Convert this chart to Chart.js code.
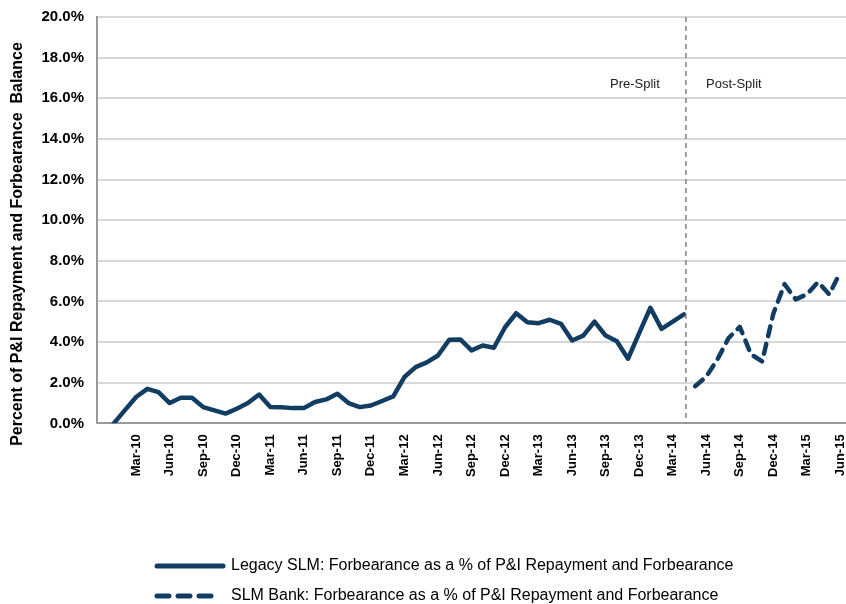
<!DOCTYPE html>
<html>
<head>
<meta charset="utf-8">
<script src="https://cdn.jsdelivr.net/npm/chart.js@4/dist/chart.umd.min.js"></script>
<style>
  html, body { margin: 0; padding: 0; background: #fff; }
  #wrap { width: 846px; height: 604px; position: relative; }
</style>
</head>
<body>
<div id="wrap"><canvas id="c" width="846" height="604"></canvas></div>
<script>
const months = [
  'Dec-09',
  'Jan-10','Feb-10','Mar-10','Apr-10','May-10','Jun-10','Jul-10','Aug-10','Sep-10','Oct-10','Nov-10','Dec-10',
  'Jan-11','Feb-11','Mar-11','Apr-11','May-11','Jun-11','Jul-11','Aug-11','Sep-11','Oct-11','Nov-11','Dec-11',
  'Jan-12','Feb-12','Mar-12','Apr-12','May-12','Jun-12','Jul-12','Aug-12','Sep-12','Oct-12','Nov-12','Dec-12',
  'Jan-13','Feb-13','Mar-13','Apr-13','May-13','Jun-13','Jul-13','Aug-13','Sep-13','Oct-13','Nov-13','Dec-13',
  'Jan-14','Feb-14','Mar-14','Apr-14','May-14','Jun-14','Jul-14','Aug-14','Sep-14','Oct-14','Nov-14','Dec-14',
  'Jan-15','Feb-15','Mar-15','Apr-15','May-15','Jun-15'
];

// Legacy SLM (Jan-10 .. Apr-14), percent
const legacyValues = [
  0.0, 0.65, 1.3, 1.7, 1.54, 1.0, 1.26, 1.26, 0.8, 0.64, 0.48, 0.72,
  1.0, 1.42, 0.8, 0.79, 0.75, 0.75, 1.05, 1.18, 1.46, 1.0, 0.8, 0.88,
  1.1, 1.33, 2.28, 2.77, 3.0, 3.34, 4.11, 4.13, 3.59, 3.83, 3.72, 4.73,
  5.42, 4.98, 4.93, 5.1, 4.9, 4.08, 4.32, 5.01, 4.32, 4.04, 3.18, 4.44,
  5.69, 4.65, 5.01, 5.36
];
const legacyStart = 'Jan-10';

// SLM Bank (May-14 .. Jun-15), percent
const bankValues = [1.83, 2.3, 3.15, 4.2, 4.75, 3.4, 3.05, 5.4, 6.85, 6.1, 6.35, 6.95, 6.35, 7.45];
const bankStart = 'May-14';

const splitMonth = 'Apr-14';
const yTicks = [0, 2, 4, 6, 8, 10, 12, 14, 16, 18, 20];

const seriesNames = [
  'Legacy SLM: Forbearance as a % of P&I Repayment and Forbearance',
  'SLM Bank: Forbearance as a % of P&I Repayment and Forbearance'
];
const yTitle = 'Percent of P&I Repayment and Forbearance  Balance';

function place(values, start) {
  const arr = months.map(() => null);
  const s = months.indexOf(start);
  values.forEach((v, i) => { arr[s + i] = v; });
  return arr;
}

const NAVY = '#123d63';
const FONT = 'Arial, "Liberation Sans", sans-serif';

const extras = {
  id: 'extras',
  afterDatasetsDraw(chart) {
    const ctx = chart.ctx;
    const x = chart.scales.x;
    const area = chart.chartArea;
    const sx = x.getPixelForValue(months.indexOf(splitMonth)) + 2;
    ctx.save();
    // split line
    ctx.strokeStyle = '#808080';
    ctx.lineWidth = 1.5;
    ctx.setLineDash([5, 4]);
    ctx.beginPath();
    ctx.moveTo(sx, area.top);
    ctx.lineTo(sx, area.bottom);
    ctx.stroke();
    ctx.setLineDash([]);
    // labels
    ctx.fillStyle = '#222';
    ctx.font = '13px ' + FONT;
    ctx.textBaseline = 'middle';
    ctx.textAlign = 'center';
    ctx.fillText('Pre-Split', sx - 51, 84);
    ctx.fillText('Post-Split', sx + 48, 84);
    // y title
    ctx.save();
    ctx.translate(18, 244);
    ctx.rotate(-Math.PI / 2);
    ctx.font = 'bold 16px ' + FONT;
    ctx.fillStyle = '#000';
    ctx.textAlign = 'center';
    ctx.fillText(yTitle, 0, 0);
    ctx.restore();
    // legend
    const lx0 = 155, lx1 = 225, rows = [566, 596];
    ctx.strokeStyle = NAVY;
    ctx.lineWidth = 5;
    ctx.lineCap = 'round';
    ctx.beginPath();
    ctx.moveTo(lx0 + 2, rows[0]); ctx.lineTo(lx1 - 2, rows[0]);
    ctx.stroke();
    ctx.setLineDash([12, 9]);
    ctx.beginPath();
    ctx.moveTo(lx0 + 2, rows[1]); ctx.lineTo(lx1 - 8, rows[1]);
    ctx.stroke();
    ctx.setLineDash([]);
    ctx.fillStyle = '#000';
    ctx.font = '16px ' + FONT;
    ctx.textAlign = 'left';
    ctx.fillText(seriesNames[0], 231, rows[0]);
    ctx.fillText(seriesNames[1], 231, rows[1]);
    ctx.restore();
  }
};

new Chart(document.getElementById('c'), {
  type: 'line',
  data: {
    labels: months,
    datasets: [
      {
        label: seriesNames[0],
        data: place(legacyValues, legacyStart),
        borderColor: NAVY,
        borderWidth: 4.5,
        pointRadius: 0,
        tension: 0,
        spanGaps: false,
        borderCapStyle: 'round',
        borderJoinStyle: 'round'
      },
      {
        label: seriesNames[1],
        data: place(bankValues, bankStart),
        borderColor: NAVY,
        borderWidth: 4.5,
        borderDash: [10, 8],
        borderCapStyle: 'round',
        borderJoinStyle: 'round',
        pointRadius: 0,
        tension: 0
      }
    ]
  },
  options: {
    responsive: false,
    animation: false,
    devicePixelRatio: 1,
    layout: { padding: { left: 34, top: 17, right: 0, bottom: 116 } },
    plugins: { legend: { display: false }, tooltip: { enabled: false } },
    scales: {
      x: {
        offset: true,
        afterFit: (s) => { s.paddingRight = 0; s.paddingLeft = 0; },
        grid: { display: false, drawTicks: false },
        border: { display: true, color: '#9a9a9a', width: 2 },
        ticks: {
          autoSkip: false,
          maxRotation: 90,
          minRotation: 90,
          padding: 11,
          color: '#000',
          font: { family: FONT, size: 13, weight: 'bold' },
          callback: function (v, i) { return (i > 0 && i % 3 === 0) ? months[i] : ''; }
        }
      },
      y: {
        min: 0,
        max: 20,
        afterBuildTicks: (s) => { s.ticks = yTicks.map(v => ({ value: v })); },
        afterFit: (s) => { s.width = 63; s.paddingTop = 0; s.paddingBottom = 0; },
        grid: { color: '#d9d9d9', lineWidth: 2, drawTicks: false },
        border: { display: true, color: '#9a9a9a', width: 2 },
        ticks: {
          padding: 13,
          color: '#000',
          font: { family: FONT, size: 15, weight: 'bold' },
          callback: (v) => v.toFixed(1) + '%'
        }
      }
    }
  },
  plugins: [extras]
});
</script>
</body>
</html>
